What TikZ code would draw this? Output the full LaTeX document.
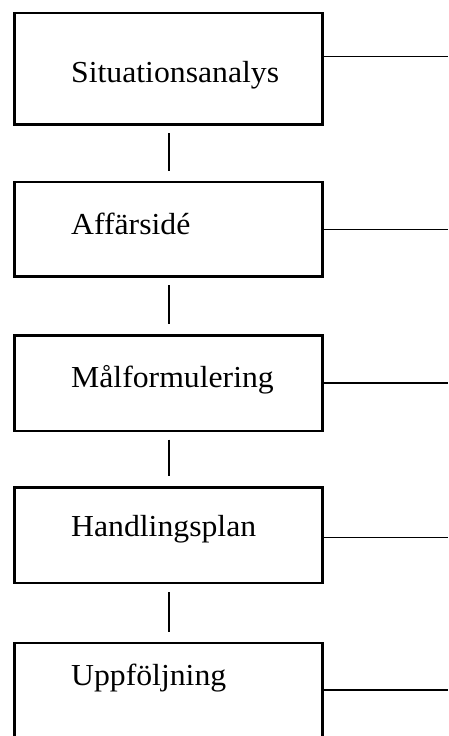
\documentclass[tikz,border=0pt]{standalone}
\usepackage{fontspec}
\setmainfont{Liberation Serif}[FakeStretch=1.04]
\usetikzlibrary{positioning}

\tikzset{
  stage/.style={draw, line width=2.4pt, rectangle, minimum width=308pt, outer sep=0pt, inner sep=0pt},
  stagetext/.style={anchor=base west, inner sep=0pt, font=\fontsize{30.5}{36}\selectfont},
  link/.style={line width=2pt, shorten <=9pt, shorten >=11pt},
  sideline/.style={line width=1.2pt}
}

\begin{document}
\begin{tikzpicture}[x=1pt, y=-1pt]
    \useasboundingbox (0,0) rectangle (448,736);

    \node[stage, minimum height=111.5pt] (analys) at (168.5,68.6) {};
    \node[stage, minimum height=94.6pt] (ide) at (168.5,229) {};
    \node[stage, minimum height=95.4pt] (mal) at (168.5,383) {};
    \node[stage, minimum height=95.7pt] (plan) at (168.5,535.2) {};
    \node[stage, minimum height=96pt] (uppf) at (168.5,690.7) {};

    \node[stagetext] (analystext) at (71,82.5) {Situationsanalys};
    \node[stagetext] (idetext) at (71,234) {Affärsidé};
    \node[stagetext] (maltext) at (71,387.3) {Målformulering};
    \node[stagetext] (plantext) at (71,536.5) {Handlingsplan};
    \node[stagetext] (uppftext) at (71,685) {Uppföljning};

    \draw[link] (analys.south) -- (ide.north);
    \draw[link] (ide.south) -- (mal.north);
    \draw[link] (mal.south) -- (plan.north);
    \draw[link] (plan.south) -- (uppf.north);

    \coordinate (r1) at (448,56.7);
    \coordinate (r2) at (448,229.3);
    \coordinate (r3) at (448,383);
    \coordinate (r4) at (448,537.3);
    \coordinate (r5) at (448,690);

    \draw[sideline] (analys.east |- r1) -- (r1);
    \draw[sideline] (ide.east |- r2) -- (r2);
    \draw[sideline] (mal.east |- r3) -- (r3);
    \draw[sideline] (plan.east |- r4) -- (r4);
    \draw[sideline] (uppf.east |- r5) -- (r5);
\end{tikzpicture}
\end{document}
